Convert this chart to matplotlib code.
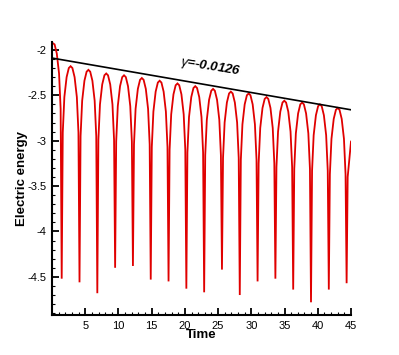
import matplotlib

matplotlib.use("Agg")

import matplotlib.pyplot as plt
from matplotlib.ticker import FormatStrFormatter, MultipleLocator

# electric energy curve (one line per lobe, ending at the following trough)
time = [
    0.00, 0.39, 0.72, 1.06, 1.30, 1.46,
    1.62, 1.86, 2.20, 2.53, 2.80, 3.07, 3.40, 3.74, 3.98, 4.14,
    4.30, 4.54, 4.88, 5.21, 5.48, 5.75, 6.08, 6.42, 6.66, 6.82,
    6.98, 7.22, 7.56, 7.89, 8.16, 8.43, 8.76, 9.10, 9.34, 9.50,
    9.66, 9.90, 10.24, 10.57, 10.84, 11.11, 11.44, 11.78, 12.02, 12.18,
    12.34, 12.58, 12.92, 13.25, 13.52, 13.79, 14.12, 14.46, 14.70, 14.86,
    15.02, 15.26, 15.60, 15.93, 16.20, 16.47, 16.80, 17.14, 17.38, 17.54,
    17.70, 17.94, 18.28, 18.61, 18.88, 19.15, 19.48, 19.82, 20.06, 20.22,
    20.38, 20.62, 20.96, 21.29, 21.56, 21.83, 22.16, 22.50, 22.74, 22.90,
    23.06, 23.30, 23.64, 23.97, 24.24, 24.51, 24.84, 25.18, 25.42, 25.58,
    25.74, 25.98, 26.32, 26.65, 26.92, 27.19, 27.52, 27.86, 28.10, 28.26,
    28.42, 28.66, 29.00, 29.33, 29.60, 29.87, 30.20, 30.54, 30.78, 30.94,
    31.10, 31.34, 31.68, 32.01, 32.28, 32.55, 32.88, 33.22, 33.46, 33.62,
    33.78, 34.02, 34.36, 34.69, 34.96, 35.23, 35.56, 35.90, 36.14, 36.30,
    36.46, 36.70, 37.04, 37.37, 37.64, 37.91, 38.24, 38.58, 38.82, 38.98,
    39.14, 39.38, 39.72, 40.05, 40.32, 40.59, 40.92, 41.26, 41.50, 41.66,
    41.82, 42.06, 42.40, 42.73, 43.00, 43.27, 43.60, 43.94, 44.18, 44.34,
    44.50, 45.00,
]
energy = [
    -1.92, -1.94, -2.04, -2.26, -2.65, -4.52,
    -2.91, -2.52, -2.30, -2.20, -2.18, -2.20, -2.30, -2.52, -2.91, -4.56,
    -2.95, -2.56, -2.34, -2.24, -2.22, -2.24, -2.34, -2.56, -2.95, -4.68,
    -2.99, -2.60, -2.38, -2.28, -2.26, -2.28, -2.38, -2.60, -2.99, -4.40,
    -3.01, -2.62, -2.40, -2.30, -2.28, -2.30, -2.40, -2.62, -3.01, -4.38,
    -3.04, -2.65, -2.43, -2.33, -2.31, -2.33, -2.43, -2.65, -3.04, -4.53,
    -3.07, -2.68, -2.46, -2.36, -2.34, -2.36, -2.46, -2.68, -3.07, -4.55,
    -3.10, -2.71, -2.49, -2.39, -2.37, -2.39, -2.49, -2.71, -3.10, -4.63,
    -3.13, -2.74, -2.52, -2.42, -2.40, -2.42, -2.52, -2.74, -3.13, -4.67,
    -3.16, -2.77, -2.55, -2.45, -2.43, -2.45, -2.55, -2.77, -3.16, -4.42,
    -3.19, -2.80, -2.58, -2.48, -2.46, -2.48, -2.58, -2.80, -3.19, -4.70,
    -3.21, -2.82, -2.60, -2.50, -2.48, -2.50, -2.60, -2.82, -3.21, -4.55,
    -3.25, -2.86, -2.64, -2.54, -2.52, -2.54, -2.64, -2.86, -3.25, -4.52,
    -3.29, -2.90, -2.68, -2.58, -2.56, -2.58, -2.68, -2.90, -3.29, -4.64,
    -3.31, -2.92, -2.70, -2.60, -2.58, -2.60, -2.70, -2.92, -3.31, -4.78,
    -3.33, -2.94, -2.72, -2.62, -2.60, -2.62, -2.72, -2.94, -3.33, -4.64,
    -3.37, -2.98, -2.76, -2.66, -2.64, -2.66, -2.76, -2.98, -3.37, -4.57,
    -3.40, -3.01,
]

# fitted envelope of the crests
fit_time = [0.0, 45.0]
fit_energy = [-2.09, -2.66]
fit_label = r"$\gamma$=-0.0126"

x_ticks = [5, 10, 15, 20, 25, 30, 35, 40, 45]
y_ticks = [-2.0, -2.5, -3.0, -3.5, -4.0, -4.5]

plt.rcParams["font.family"] = ["Liberation Sans", "DejaVu Sans"]
plt.rcParams["axes.unicode_minus"] = False
plt.rcParams["mathtext.fontset"] = "custom"
plt.rcParams["mathtext.it"] = "Liberation Sans:italic"

fig = plt.figure(figsize=(3.99, 3.55), dpi=100)
ax = fig.add_axes([52 / 399, 1 - 315 / 355, (351 - 52) / 399, (315 - 41.7) / 355])

ax.plot(time, energy, color="#e00000", linewidth=1.3, solid_joinstyle="miter")
ax.plot(fit_time, fit_energy, color="black", linewidth=1.2)
ax.text(23.8, -2.19, fit_label, fontsize=9.5, fontweight="bold", fontstyle="italic",
        rotation=-9, ha="center", va="center")

ax.set_xlim(0, 45)
ax.set_ylim(-4.92, -1.91)
ax.set_xticks(x_ticks)
ax.set_yticks(y_ticks)
ax.xaxis.set_minor_locator(MultipleLocator(1))
ax.yaxis.set_minor_locator(MultipleLocator(0.1))
ax.xaxis.set_major_formatter(FormatStrFormatter("%g"))
ax.yaxis.set_major_formatter(FormatStrFormatter("%g"))

for side in ("top", "right"):
    ax.spines[side].set_visible(False)
for side in ("left", "bottom"):
    ax.spines[side].set_linewidth(1.5)

ax.tick_params(which="both", direction="in", top=False, right=False, labelsize=8, pad=4)
ax.tick_params(which="major", length=5, width=1.3)
ax.tick_params(which="minor", length=2.5, width=0.8)

ax.set_xlabel("Time", fontsize=9.5, fontweight="bold", labelpad=-1)
ax.set_ylabel("Electric energy", fontsize=9.5, fontweight="bold", labelpad=-0.5)

fig.savefig("out.png", dpi=100, facecolor="white")
